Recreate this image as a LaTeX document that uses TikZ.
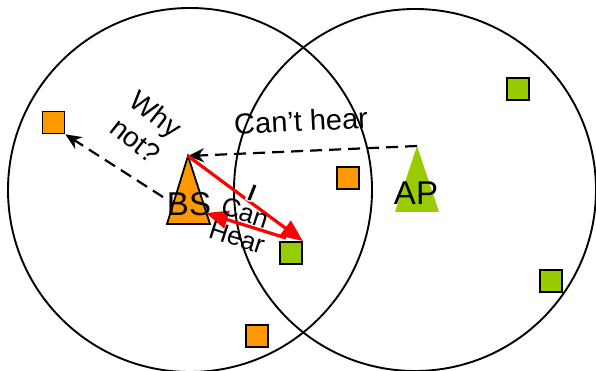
\documentclass[tikz,border=0pt]{standalone}
\usepackage{fontspec}
\setmainfont{Liberation Sans}
\usepackage{xcolor}
\usetikzlibrary{arrows.meta, positioning}
\definecolor{bsorange}{RGB}{255,153,0}
\definecolor{apgreen}{RGB}{153,204,0}
\begin{document}
\begin{tikzpicture}[x=1pt, y=-1pt,
    sq/.style={draw=black, line width=1.8pt, minimum size=22pt, inner sep=0pt},
    dasharrow/.style={line width=2.2pt, dash pattern=on 12pt off 7pt,
        -{Stealth[length=16pt, width=14pt]}},
    redarrow/.style={red, line width=3.2pt, -{Triangle[length=22pt, width=18pt]}},
    lab/.style={inner sep=0pt, align=center}]
    \useasboundingbox (0,0) rectangle (596,371);
    % ---------- coverage areas ----------
    \draw[line width=1.9pt] (190,190) circle (182);
    \draw[line width=1.9pt] (415,190) circle (181);
    % ---------- terminals ----------
    \foreach \name/\x/\y in {o1/53.5/122.5, o2/348/178, o3/257/336}
    {
        \node[sq, fill=bsorange] (\name) at (\x,\y) {};
    }
    \foreach \name/\x/\y in {g1/518/89, g2/291/253, g3/551/281}
    {
        \node[sq, fill=apgreen] (\name) at (\x,\y) {};
    }
    % ---------- base station and access point ----------
    \coordinate (bs) at (188,156);
    \draw[line width=1.8pt, fill=bsorange] (bs) -- (167,224) -- (210,224) -- cycle;
    \coordinate (ap) at (417,146);
    \fill[apgreen] (ap) -- (395,212) -- (439,212) -- cycle;
    \node[lab, font=\fontsize{33}{35}\selectfont] (bslab) at (189,204) {BS};
    \node[lab, font=\fontsize{33}{35}\selectfont] (aplab) at (416,193) {AP};
    % ---------- links ----------
    \draw[dasharrow] (ap) -- (bs);
    \coordinate (whyfrom) at (163,197);
    \draw[dasharrow] (whyfrom) -- (o1.south east);
    \draw[redarrow] (bs) -- (g2.north east);
    \coordinate (hearfrom) at (286,238);
    \coordinate (hearto) at (206,213);
    \draw[redarrow] (hearfrom) -- (hearto);
    % strike mark
    \draw[white, line width=7pt] (254,186) -- (248,201);
    \draw[line width=3pt] (255,185) -- (249,200);
    % ---------- labels ----------
    \node[lab, rotate=3, font=\fontsize{29}{31}\selectfont] (canthear) at (301,121) {Can’t hear};
    \node[lab, rotate=-38, font=\fontsize{28}{33}\selectfont] (whynot) at (146,127) {Why\\not?};
    \node[lab, rotate=-18, font=\fontsize{26}{26}\selectfont] (canhear) at (241,225) {Can\\Hear};
\end{tikzpicture}
\end{document}
